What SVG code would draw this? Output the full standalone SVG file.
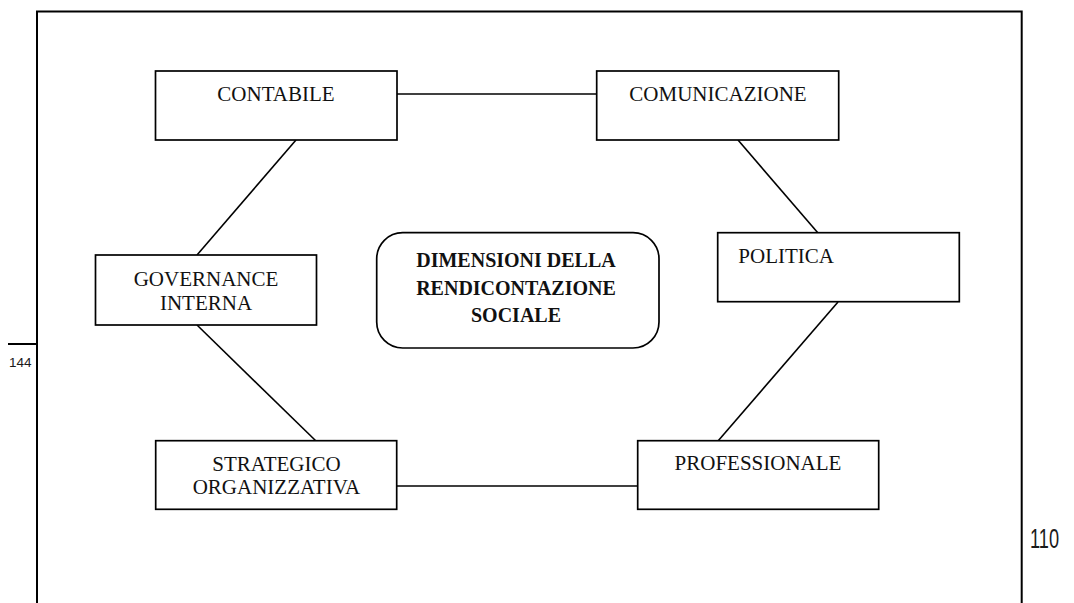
<svg xmlns="http://www.w3.org/2000/svg" width="1074" height="603" viewBox="0 0 1074 603">
  <style>
    .frame { fill: none; stroke: #000; stroke-width: 2; }
    .box { fill: #fff; stroke: #000; stroke-width: 1.7; }
    .link { fill: none; stroke: #000; stroke-width: 1.6; }
    .lbl { font-family: "Liberation Serif", "Times New Roman", serif; font-size: 21px; fill: #111; text-anchor: middle; }
    .title { font-family: "Liberation Serif", "Times New Roman", serif; font-size: 20px; font-weight: bold; fill: #111; text-anchor: middle; }
    .pg { font-family: "Liberation Sans", Arial, sans-serif; fill: #1a1a1a; }
  </style>
  <rect width="1074" height="603" fill="#fff"/>

  <!-- page frame, open at the bottom -->
  <path class="frame" d="M37,603 V11.5 H1021.7 V603"/>
  <line class="frame" x1="8" y1="344" x2="37" y2="344"/>
  <text class="pg" x="9" y="366.5" font-size="13.5">144</text>
  <text class="pg" x="1030" y="548" font-size="28" textLength="29" lengthAdjust="spacingAndGlyphs">110</text>

  <!-- connectors -->
  <g id="connectors">
    <line class="link" x1="397" y1="94" x2="597" y2="94"/>
    <line class="link" x1="296" y1="140" x2="197" y2="255"/>
    <line class="link" x1="197" y1="325" x2="316" y2="441"/>
    <line class="link" x1="397" y1="486" x2="638" y2="486"/>
    <line class="link" x1="718" y1="441" x2="838" y2="302"/>
    <line class="link" x1="818" y1="233" x2="738" y2="140"/>
  </g>

  <g id="contabile">
    <rect class="box" x="155.5" y="71" width="241.5" height="69"/>
    <text class="lbl" x="276" y="101">CONTABILE</text>
  </g>

  <g id="comunicazione">
    <rect class="box" x="596.7" y="71" width="242" height="69"/>
    <text class="lbl" x="718" y="101">COMUNICAZIONE</text>
  </g>

  <g id="governance">
    <rect class="box" x="95.5" y="255" width="221" height="70"/>
    <text class="lbl" x="206" y="285.5">GOVERNANCE</text>
    <text class="lbl" x="206" y="309.5">INTERNA</text>
  </g>

  <g id="politica">
    <rect class="box" x="717.7" y="232.7" width="241.6" height="69"/>
    <text class="lbl" x="738.3" y="262.5" style="text-anchor:start">POLITICA</text>
  </g>

  <g id="strategico">
    <rect class="box" x="155.7" y="440.7" width="241" height="68.6"/>
    <text class="lbl" x="276.5" y="470.5">STRATEGICO</text>
    <text class="lbl" x="276.5" y="494">ORGANIZZATIVA</text>
  </g>

  <g id="professionale">
    <rect class="box" x="637.7" y="440.7" width="241" height="68.6"/>
    <text class="lbl" x="758" y="470">PROFESSIONALE</text>
  </g>

  <g id="dimensioni">
    <rect class="box" x="376.7" y="232.7" width="282.3" height="115.3" rx="26" ry="26"/>
    <text class="title" x="516" y="267">DIMENSIONI DELLA</text>
    <text class="title" x="516" y="294.5">RENDICONTAZIONE</text>
    <text class="title" x="516" y="321.5">SOCIALE</text>
  </g>
</svg>
